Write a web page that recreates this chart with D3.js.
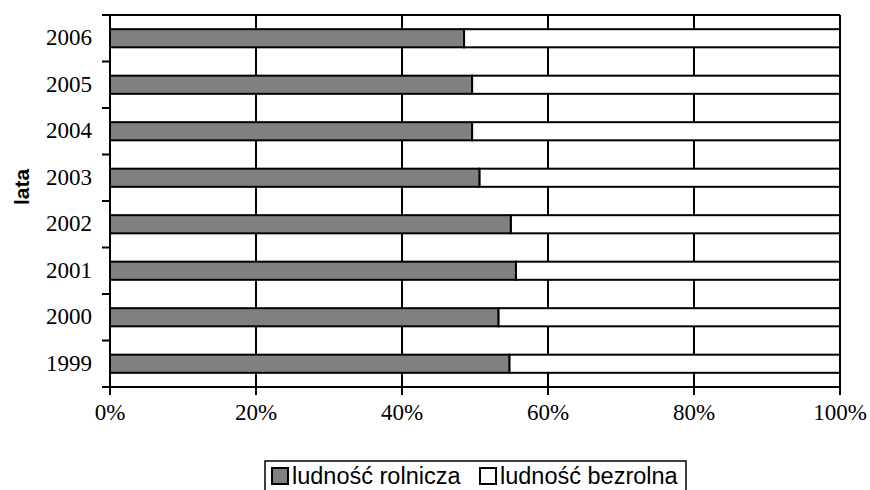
<!DOCTYPE html>
<html>
<head>
<meta charset="utf-8">
<script src="https://cdn.jsdelivr.net/npm/d3@7"></script>
<style>
  body { margin: 0; background: #fff; }
  svg { display: block; }
</style>
</head>
<body>
<svg id="chart" width="870" height="490"></svg>
<script>
const years = ["1999", "2000", "2001", "2002", "2003", "2004", "2005", "2006"];
const rolnicza = [54.7, 53.2, 55.6, 54.9, 50.6, 49.6, 49.6, 48.5];
const seriesNames = ["ludność rolnicza", "ludność bezrolna"];
const seriesColors = ["#808080", "#ffffff"];
const xTicks = [0, 20, 40, 60, 80, 100];

const svg = d3.select("#chart");
const margin = { top: 15, right: 30, bottom: 103, left: 110 };
const width = 870 - margin.left - margin.right;
const height = 490 - margin.top - margin.bottom;

const g = svg.append("g")
  .attr("transform", `translate(${margin.left},${margin.top})`);

const x = d3.scaleLinear().domain([0, 100]).range([0, width]);
const y = d3.scaleBand()
  .domain(years.slice().reverse())
  .range([0, height])
  .paddingInner(0.61)
  .paddingOuter(0.305);
const step = y.step();

// vertical gridlines
g.selectAll(".grid")
  .data(xTicks.slice(1))
  .join("line")
  .attr("x1", d => x(d)).attr("x2", d => x(d))
  .attr("y1", 0).attr("y2", height)
  .attr("stroke", "#000").attr("stroke-width", 2);

// top border
g.append("line")
  .attr("x1", 0).attr("x2", width)
  .attr("y1", 0).attr("y2", 0)
  .attr("stroke", "#000").attr("stroke-width", 2);

const data = years.map((yr, i) => ({ year: yr, a: rolnicza[i], b: 100 - rolnicza[i] }));

// white segment (bezrolna)
g.selectAll(".barB")
  .data(data)
  .join("rect")
  .attr("x", d => x(d.a))
  .attr("y", d => y(d.year))
  .attr("width", d => x(100) - x(d.a))
  .attr("height", y.bandwidth())
  .attr("fill", seriesColors[1])
  .attr("stroke", "#000").attr("stroke-width", 2);

// grey segment (rolnicza)
g.selectAll(".barA")
  .data(data)
  .join("rect")
  .attr("x", x(0))
  .attr("y", d => y(d.year))
  .attr("width", d => x(d.a))
  .attr("height", y.bandwidth())
  .attr("fill", seriesColors[0])
  .attr("stroke", "#000").attr("stroke-width", 2);

// left axis line + ticks at category boundaries
g.append("line")
  .attr("x1", 0).attr("x2", 0).attr("y1", 0).attr("y2", height + 8)
  .attr("stroke", "#000").attr("stroke-width", 2);
g.selectAll(".ytick")
  .data(d3.range(years.length + 1))
  .join("line")
  .attr("x1", -8).attr("x2", 0)
  .attr("y1", i => i * step).attr("y2", i => i * step)
  .attr("stroke", "#000").attr("stroke-width", 2);

// bottom axis
g.append("line")
  .attr("x1", -8).attr("x2", width).attr("y1", height).attr("y2", height)
  .attr("stroke", "#000").attr("stroke-width", 2);
g.selectAll(".xtick")
  .data(xTicks)
  .join("line")
  .attr("x1", d => x(d)).attr("x2", d => x(d))
  .attr("y1", height).attr("y2", height + 8)
  .attr("stroke", "#000").attr("stroke-width", 2);

// tick labels
g.selectAll(".ylab")
  .data(years)
  .join("text")
  .attr("x", -18)
  .attr("y", d => y(d) + y.bandwidth() / 2 - 1)
  .attr("dy", "0.35em")
  .attr("text-anchor", "end")
  .style("font-family", "'Liberation Serif', 'Times New Roman', serif")
  .style("font-size", "23px")
  .text(d => d);

g.selectAll(".xlab")
  .data(xTicks)
  .join("text")
  .attr("x", d => x(d))
  .attr("y", height + 33)
  .attr("text-anchor", "middle")
  .style("font-family", "'Liberation Serif', 'Times New Roman', serif")
  .style("font-size", "23px")
  .text(d => d + "%");

// y axis title
svg.append("text")
  .attr("transform", "translate(29,187) rotate(-90)")
  .attr("text-anchor", "middle")
  .style("font-family", "'Liberation Sans', Arial, sans-serif")
  .style("font-weight", "bold")
  .style("font-size", "21px")
  .text("lata");

// legend
const legend = svg.append("g").attr("transform", "translate(265,461)");
legend.append("rect")
  .attr("x", 0).attr("y", 0).attr("width", 421).attr("height", 40)
  .attr("fill", "#fff").attr("stroke", "#000").attr("stroke-width", 1.5);
const itemX = [7, 215];
seriesNames.forEach((name, i) => {
  legend.append("rect")
    .attr("x", itemX[i]).attr("y", 7)
    .attr("width", 16).attr("height", 16)
    .attr("fill", seriesColors[i])
    .attr("stroke", "#000").attr("stroke-width", 2);
  legend.append("text")
    .attr("x", itemX[i] + 20).attr("y", 23)
    .style("font-family", "'Liberation Sans', Arial, sans-serif")
    .style("font-size", "23.5px")
    .text(name);
});
</script>
</body>
</html>
